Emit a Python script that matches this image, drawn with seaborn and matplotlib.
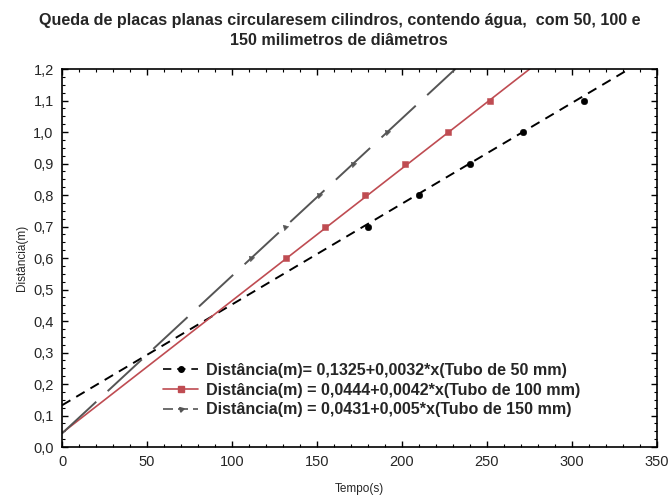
import seaborn as sns
import matplotlib.pyplot as plt
import numpy as np
import pandas as pd
from matplotlib.lines import Line2D
from matplotlib.ticker import MultipleLocator, FuncFormatter

# pontos medidos (tempo em s, distancia em m)
t50 = [180, 210, 240, 271, 307]
d50 = [0.7, 0.8, 0.9, 1.0, 1.1]
t100 = [132, 155, 178, 202, 227, 252]
d100 = [0.6, 0.7, 0.8, 0.9, 1.0, 1.1]
t150 = [111, 131, 151, 171, 191]
d150 = [0.6, 0.7, 0.8, 0.9, 1.0]

# ajustes lineares (da legenda)
intercepts = [0.1325, 0.0444, 0.0431]
slopes = [0.0032, 0.0042, 0.005]
labels = ["Distância(m)= 0,1325+0,0032*x(Tubo de 50 mm)",
          "Distância(m) = 0,0444+0,0042*x(Tubo de 100 mm)",
          "Distância(m) = 0,0431+0,005*x(Tubo de 150 mm)"]

sns.set_style("white")
plt.rcParams['font.family'] = ['Liberation Sans', 'DejaVu Sans']

fig = plt.figure(figsize=(6.69, 4.98), dpi=100)
ax = fig.add_axes([0.0927, 0.1024, 0.8893, 0.759])

cores = ["black", "#bf4c52", "#555555"]
estilos = [(0, (5, 3.5)), "-", (0, (24, 8))]
marcadores = ["o", "s", (3, 0, 45)]

df = pd.concat([
    pd.DataFrame({"t": t50, "d": d50, "s": "50"}),
    pd.DataFrame({"t": t100, "d": d100, "s": "100"}),
    pd.DataFrame({"t": t150, "d": d150, "s": "150"}),
])

for i, s in enumerate(["50", "100", "150"]):
    ax.axline((0, intercepts[i]), slope=slopes[i], color=cores[i],
              linestyle=estilos[i], lw=1.4 if i != 1 else 1.2, zorder=2)
    sns.scatterplot(data=df[df.s == s], x="t", y="d", ax=ax, color=cores[i],
                    marker=marcadores[i], s=22, edgecolor=cores[i], zorder=3,
                    legend=False)

ax.set_xlim(0, 350)
ax.set_ylim(0, 1.2)
ax.xaxis.set_major_locator(MultipleLocator(50))
ax.xaxis.set_minor_locator(MultipleLocator(10))
ax.yaxis.set_major_locator(MultipleLocator(0.1))
ax.yaxis.set_minor_locator(MultipleLocator(0.025))
ax.yaxis.set_major_formatter(FuncFormatter(lambda v, p: f"{v:.1f}".replace(".", ",")))
ax.tick_params(which="both", direction="in", top=True, right=True,
               bottom=True, left=True, labelsize=10.5, pad=6, color="black")
ax.tick_params(which="major", length=4, width=1)
ax.tick_params(which="minor", length=2, width=0.8)
for sp in ax.spines.values():
    sp.set_color("black")
    sp.set_linewidth(1.2)

ax.set_xlabel("Tempo(s)", fontsize=8.5, labelpad=10)
ax.set_ylabel("Distância(m)", fontsize=8.5, labelpad=4)
ax.set_title("Queda de placas planas circularesem cilindros, contendo água,  com 50, 100 e\n150 milimetros de diâmetros",
             fontsize=11.6, fontweight="bold", pad=17, linespacing=1.45, x=0.466)

handles = [Line2D([], [], color=cores[i], linestyle=estilos[i] if i != 2 else (0, (6, 3)),
                  marker=marcadores[i], markersize=4, lw=1.2) for i in range(3)]
leg = ax.legend(handles, labels, loc="lower left", bbox_to_anchor=(0.145, 0.04),
                frameon=False, handlelength=2.2, handletextpad=0.5,
                labelspacing=0.3, prop={"weight": "bold", "size": 11.6})

fig.savefig("out.png", dpi=100)
